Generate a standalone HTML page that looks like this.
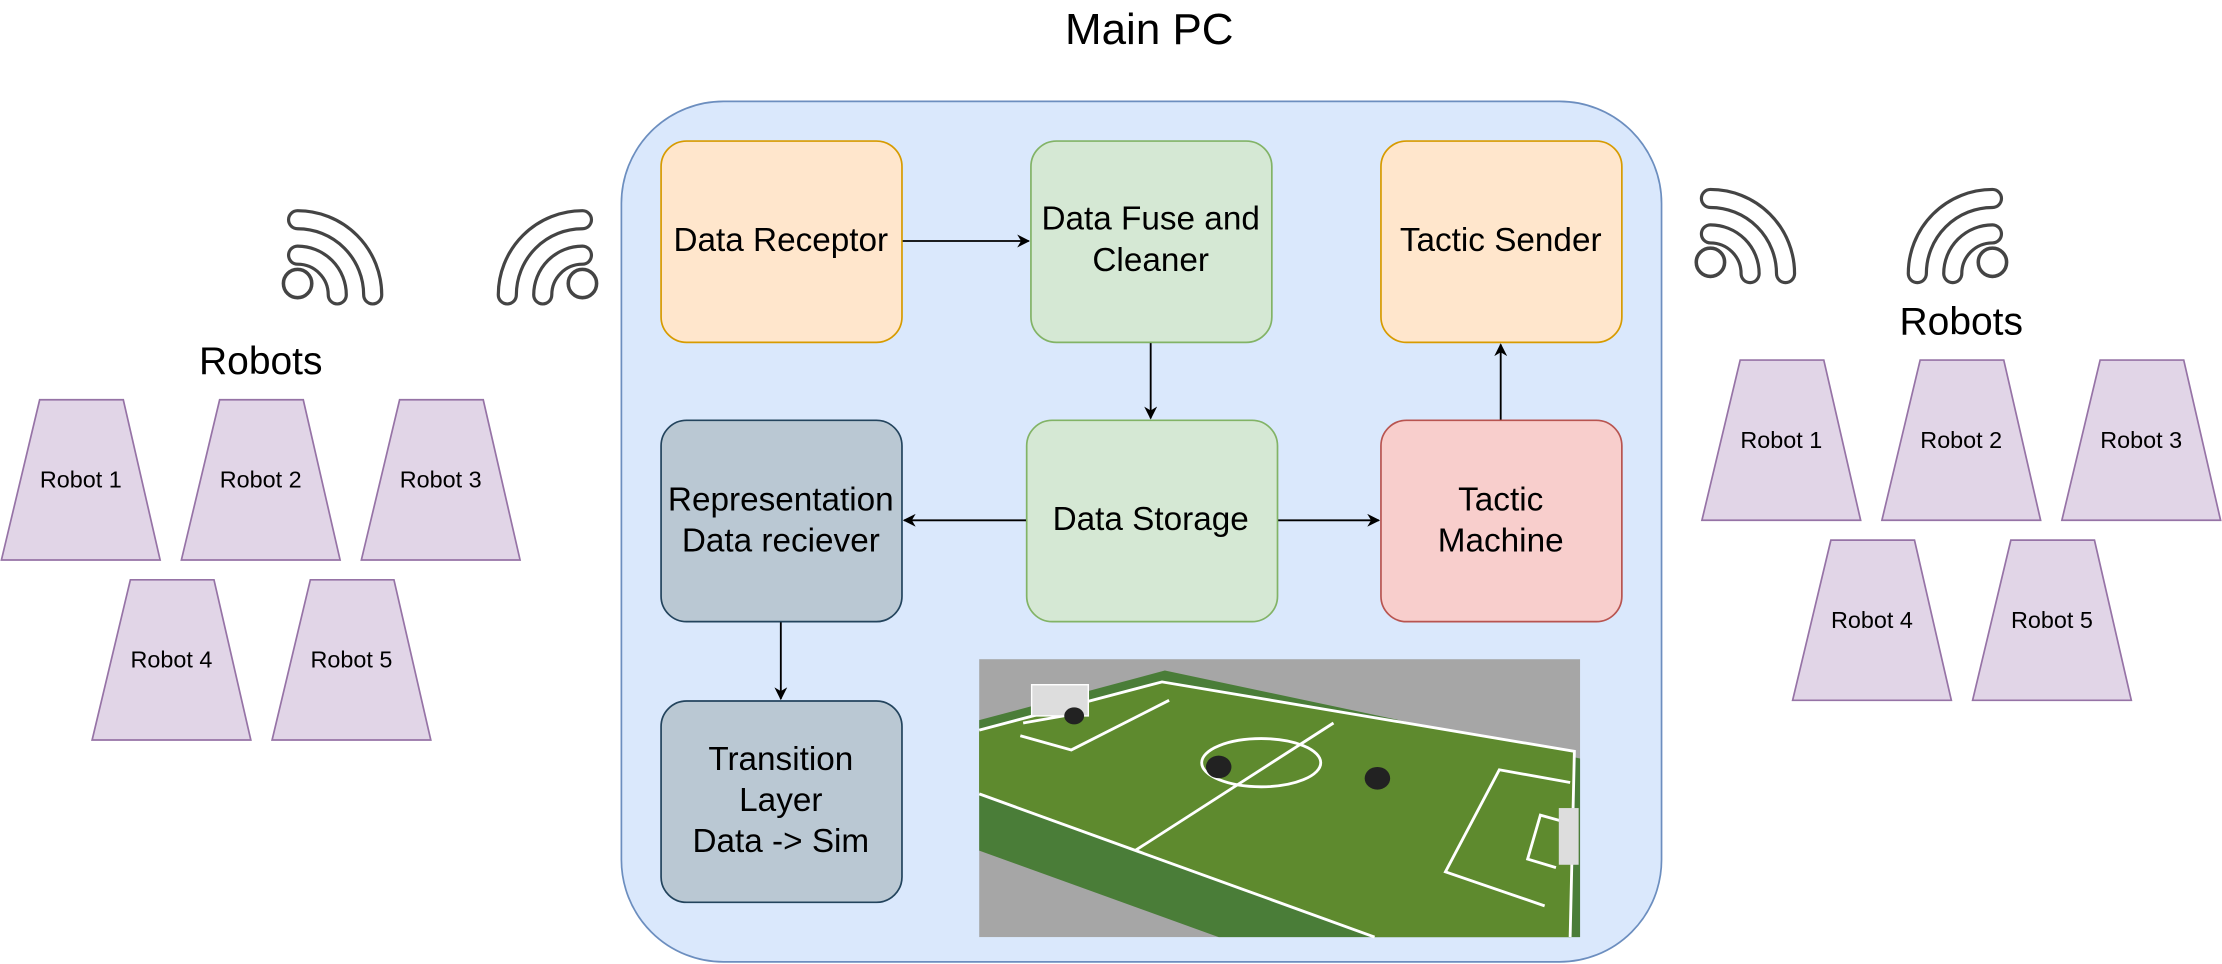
<!DOCTYPE html>
<html><head><meta charset="utf-8"><style>
html,body{margin:0;padding:0;background:#fff;}
svg{display:block;}
text{font-family:"Liberation Sans",Arial,sans-serif;fill:#000;}
</style></head><body>
<svg width="2222" height="964" viewBox="0 0 1568 680" preserveAspectRatio="none" xmlns="http://www.w3.org/2000/svg">
<defs>
<marker id="ar" viewBox="0 0 10 10" refX="9" refY="5" markerWidth="7" markerHeight="7" orient="auto">
<path d="M0,0 L10,5 L0,10 L3,5 Z" fill="#000"/></marker>
<g id="wifi">
<path d="M0,-20 A28,28 0 0 1 28,8 M0,-45 A53,53 0 0 1 53,8" fill="none" stroke="#444" stroke-width="15" stroke-linecap="round"/>
<path d="M0,-20 A28,28 0 0 1 28,8 M0,-45 A53,53 0 0 1 53,8" fill="none" stroke="#fff" stroke-width="10.5" stroke-linecap="round"/>
<circle cx="0" cy="0" r="10" fill="#fff" stroke="#444" stroke-width="2.5"/>
</g>
</defs>
<text x="811" y="31" font-size="31" text-anchor="middle">Main PC</text>
<rect x="438.5" y="71.5" width="734" height="607" rx="72" fill="#dae8fc" stroke="#6c8ebf" stroke-width="1.2"/>

<g stroke-width="1.2">
<rect x="466.5" y="99.5" width="170" height="142" rx="18" fill="#ffe6cc" stroke="#d79b00"/>
<rect x="727.5" y="99.5" width="170" height="142" rx="18" fill="#d5e8d4" stroke="#82b366"/>
<rect x="974.5" y="99.5" width="170" height="142" rx="18" fill="#ffe6cc" stroke="#d79b00"/>
<rect x="466.5" y="296.5" width="170" height="142" rx="18" fill="#bac8d3" stroke="#23445d"/>
<rect x="724.5" y="296.5" width="177" height="142" rx="18" fill="#d5e8d4" stroke="#82b366"/>
<rect x="974.5" y="296.5" width="170" height="142" rx="18" fill="#f8cecc" stroke="#b85450"/>
<rect x="466.5" y="494.5" width="170" height="142" rx="18" fill="#bac8d3" stroke="#23445d"/>
</g>
<g font-size="23.5" text-anchor="middle">
<text x="551" y="177">Data Receptor</text>
<text x="812" y="162">Data Fuse and</text>
<text x="812" y="191">Cleaner</text>
<text x="1059" y="177">Tactic Sender</text>
<text x="551" y="360">Representation</text>
<text x="551" y="389">Data reciever</text>
<text x="812" y="374">Data Storage</text>
<text x="1059" y="360">Tactic</text>
<text x="1059" y="389">Machine</text>
<text x="551" y="543">Transition</text>
<text x="551" y="572">Layer</text>
<text x="551" y="601">Data -&gt; Sim</text>
</g>
<g stroke="#000" stroke-width="1.3" fill="none" marker-end="url(#ar)">
<line x1="637" y1="170" x2="726" y2="170"/>
<line x1="812" y1="242" x2="812" y2="295"/>
<line x1="724" y1="367" x2="638" y2="367"/>
<line x1="902" y1="367" x2="973" y2="367"/>
<line x1="1059" y1="296" x2="1059" y2="243"/>
<line x1="551" y1="439" x2="551" y2="493"/>
</g>

<!-- field image -->
<g>
<rect x="691" y="465" width="424" height="196" fill="#a6a6a6"/>
<polygon points="691,508 822,473 1115,535 1115,661 860,661 691,600" fill="#4a7d38"/>
<polygon points="691,515 820,481 1111,530 1108,661 970,661 691,560" fill="#5e8a2e"/>
<g stroke="#fff" stroke-width="2" fill="none">
<polyline points="691,560 970,661"/>
<polyline points="691,515 820,481 1111,530 1108,661"/>
<line x1="941" y1="510" x2="801" y2="600"/>
<ellipse cx="890" cy="538" rx="42" ry="17"/>
<polyline points="722,510 756,504 746,496"/>
<polyline points="720,519 756,529 825,494"/>
<polyline points="1108,552 1058,543 1020,615 1090,639"/>
<polyline points="1105,580 1087,575 1078,606 1098,612"/>
</g>
<rect x="728" y="483" width="40" height="22" fill="#ddd" stroke="#fff"/>
<rect x="1100" y="570" width="14" height="40" fill="#ddd"/>
<ellipse cx="860" cy="541" rx="9" ry="8" fill="#222"/>
<ellipse cx="972" cy="549" rx="9" ry="8" fill="#222"/>
<ellipse cx="758" cy="505" rx="7" ry="6" fill="#222"/>
</g>

<!-- wifi icons -->
<use href="#wifi" transform="translate(210,200)"/>
<use href="#wifi" transform="translate(411,200) scale(-1,1)"/>
<use href="#wifi" transform="translate(1207,185)"/>
<use href="#wifi" transform="translate(1406,185) scale(-1,1)"/>

<text x="184" y="264" font-size="27.5" text-anchor="middle">Robots</text>
<text x="1384" y="236" font-size="27.5" text-anchor="middle">Robots</text>

<g fill="#e1d5e7" stroke="#9673a6" stroke-width="1.2">
<polygon points="28,282 87,282 113,395 1,395"/>
<polygon points="155,282 214,282 240,395 128,395"/>
<polygon points="282,282 341,282 367,395 255,395"/>
<polygon points="92,409 151,409 177,522 65,522"/>
<polygon points="219,409 278,409 304,522 192,522"/>
<polygon points="1228,254 1287,254 1313,367 1201,367"/>
<polygon points="1355,254 1414,254 1440,367 1328,367"/>
<polygon points="1482,254 1541,254 1567,367 1455,367"/>
<polygon points="1292,381 1351,381 1377,494 1265,494"/>
<polygon points="1419,381 1478,381 1504,494 1392,494"/>
</g>
<g font-size="16.5" text-anchor="middle">
<text x="57" y="344">Robot 1</text>
<text x="184" y="344">Robot 2</text>
<text x="311" y="344">Robot 3</text>
<text x="121" y="471">Robot 4</text>
<text x="248" y="471">Robot 5</text>
<text x="1257" y="316">Robot 1</text>
<text x="1384" y="316">Robot 2</text>
<text x="1511" y="316">Robot 3</text>
<text x="1321" y="443">Robot 4</text>
<text x="1448" y="443">Robot 5</text>
</g>
</svg>
</body></html>
